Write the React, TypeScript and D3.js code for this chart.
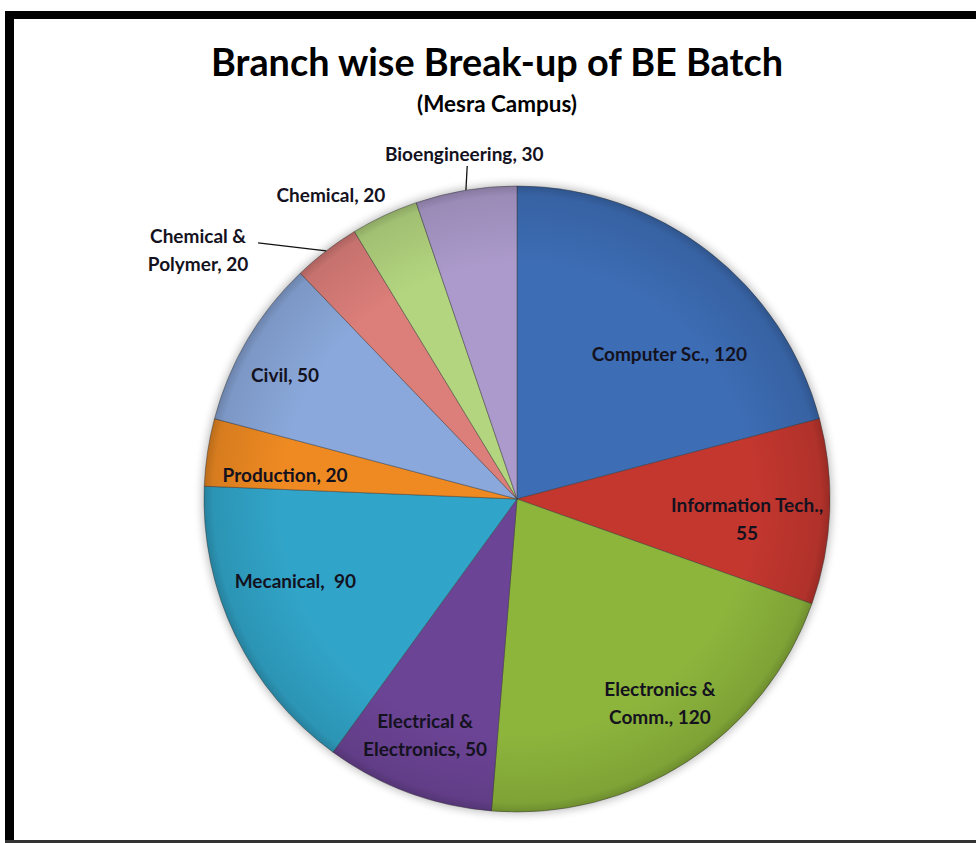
import * as d3 from "d3";

const branches = [
  "Computer Sc.",
  "Information Tech.",
  "Electronics & Comm.",
  "Electrical & Electronics",
  "Mecanical",
  "Production",
  "Civil",
  "Chemical & Polymer",
  "Chemical",
  "Bioengineering",
];
const seats = [120, 55, 120, 50, 90, 20, 50, 20, 20, 30];
const sliceColors = [
  "#3d6db5",
  "#c4372f",
  "#8db53c",
  "#6c4496",
  "#31a5c9",
  "#ef8a22",
  "#8aa8db",
  "#dc7e7a",
  "#b3d57f",
  "#ab9acb",
];
// how each label is split into lines
const labelLines = [
  ["Computer Sc., 120"],
  ["Information Tech.,", "55"],
  ["Electronics &", "Comm., 120"],
  ["Electrical &", "Electronics, 50"],
  ["Mecanical,  90"],
  ["Production, 20"],
  ["Civil, 50"],
  ["Chemical &", "Polymer, 20"],
  ["Chemical, 20"],
  ["Bioengineering, 30"],
];
// label placement: [angle in degrees clockwise from top, radius as fraction of R]
const labelPolar: [number, number][] = [
  [46.4, 0.672],
  [95.0, 0.738],
  [145.0, 0.796],
  [201.3, 0.809],
  [249.7, 0.755],
  [275.9, 0.745],
  [298.1, 0.84],
  [308.0, 1.293],
  [328.5, 1.138],
  [351.3, 1.115],
];
// leader lines for outside labels: offset of line end from the label centre
const leaders: Record<number, [number, number]> = {
  7: [60, -7],
  9: [3, 12],
};

const width = 976;
const height = 843;
const cx = 517;
const cy = 499;
const R = 313;
const lineH = 28;

export default function App() {
  const pie = d3
    .pie<number>()
    .sort(null)
    .startAngle(0)
    .endAngle(2 * Math.PI)
    .value((d) => d);
  const arcs = pie(seats);
  const arc = d3.arc<d3.PieArcDatum<number>>().innerRadius(0).outerRadius(R);
  const edgeArc = d3.arc<d3.PieArcDatum<number>>().innerRadius(R).outerRadius(R);

  const polar = (deg: number, r: number): [number, number] => {
    const a = (deg * Math.PI) / 180;
    return [Math.sin(a) * r, -Math.cos(a) * r];
  };

  return (
    <div style={{ position: "absolute", left: 0, top: 0 }}>
      <svg width={width} height={height} style={{ display: "block" }}>
        <defs>
          <radialGradient id="rim" cx="50%" cy="50%" r="50%">
            <stop offset="0.75" stopColor="#000" stopOpacity={0} />
            <stop offset="0.97" stopColor="#000" stopOpacity={0.1} />
            <stop offset="1" stopColor="#000" stopOpacity={0.22} />
          </radialGradient>
          <filter id="shadow" x="-20%" y="-20%" width="140%" height="140%">
            <feGaussianBlur stdDeviation="4" />
          </filter>
        </defs>
        <rect width={width} height={height} fill="#fff" />
        {/* frame */}
        <rect x={5} y={11} width={width - 5} height={8} fill="#000" />
        <rect x={5} y={11} width={9} height={height - 11} fill="#000" />
        <rect x={5} y={840} width={width - 5} height={3} fill="#333" />

        <text
          x={497}
          y={76}
          textAnchor="middle"
          fontFamily="Lato, 'Open Sans', sans-serif"
          fontWeight="bold"
          fontSize={39}
          textLength={572}
          lengthAdjust="spacingAndGlyphs"
          fill="#000"
        >
          Branch wise Break-up of BE Batch
        </text>
        <text
          x={497}
          y={112}
          textAnchor="middle"
          fontFamily="Lato, 'Open Sans', sans-serif"
          fontWeight="bold"
          fontSize={22}
          textLength={160}
          lengthAdjust="spacingAndGlyphs"
          fill="#000"
        >
          (Mesra Campus)
        </text>

        <g transform={`translate(${cx},${cy})`}>
          <circle r={R + 2} fill="#000" opacity={0.25} filter="url(#shadow)" />
          {arcs.map((a, i) => (
            <path
              key={branches[i]}
              d={arc(a) ?? ""}
              fill={sliceColors[i]}
              stroke="#3a3a3a"
              strokeOpacity={0.45}
              strokeWidth={1}
            />
          ))}
          <circle r={R} fill="url(#rim)" />

          {arcs.map((a, i) => {
            const lead = leaders[i];
            if (!lead) return null;
            const [sx, sy] = edgeArc.centroid(a);
            const [lx, ly] = polar(labelPolar[i][0], labelPolar[i][1] * R);
            return (
              <line
                key={"l" + i}
                x1={sx}
                y1={sy}
                x2={lx + lead[0]}
                y2={ly + lead[1]}
                stroke="#111"
                strokeWidth={1.3}
              />
            );
          })}

          {arcs.map((a, i) => {
            const [lx, ly] = polar(labelPolar[i][0], labelPolar[i][1] * R);
            const lines = labelLines[i];
            const top = ly - ((lines.length - 1) * lineH) / 2;
            return (
              <text
                key={"t" + i}
                textAnchor="middle"
                fontFamily="Lato, 'Open Sans', sans-serif"
                fontWeight="bold"
                fontSize={19}
                fill="#14121e"
                style={{ whiteSpace: "pre" }}
              >
                {lines.map((s, j) => (
                  <tspan key={j} x={lx} y={top + j * lineH} dy="0.35em">
                    {s}
                  </tspan>
                ))}
              </text>
            );
          })}
        </g>
      </svg>
    </div>
  );
}
